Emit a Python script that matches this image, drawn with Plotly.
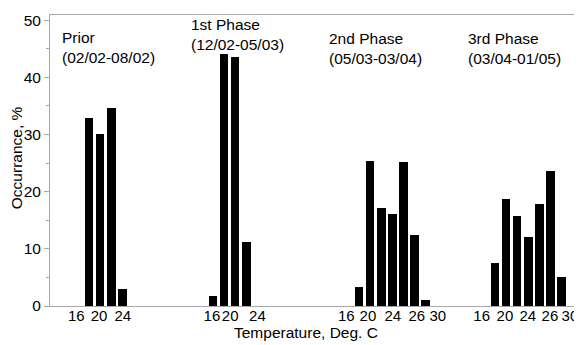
import plotly.graph_objects as go

# ---- data ----
phase_names = ["Prior", "1st Phase", "2nd Phase", "3rd Phase"]
phase_dates = ["(02/02-08/02)", "(12/02-05/03)", "(05/03-03/04)", "(03/04-01/05)"]

temps_prior = [18, 20, 22, 24]
occ_prior = [32.9, 30.1, 34.7, 2.9]

temps_phase1 = [18, 20, 22, 24]
occ_phase1 = [1.7, 44.1, 43.6, 11.2]

temps_phase2 = [18, 20, 22, 24, 26, 28, 30]
occ_phase2 = [3.3, 25.3, 17.2, 16.1, 25.2, 12.4, 1.1]

temps_phase3 = [18, 20, 22, 24, 26, 28, 30]
occ_phase3 = [7.6, 18.7, 15.7, 12.1, 17.9, 23.6, 5.1]

tick_labels_prior = ["16", "20", "24"]
tick_labels_phase1 = ["16", "20", "24"]
tick_labels_phase2 = ["16", "20", "24", "26", "30"]
tick_labels_phase3 = ["16", "20", "24", "26", "30"]

y_ticks = [0, 10, 20, 30, 40, 50]

# ---- layout helpers (positions, not data) ----
group_offsets = [0.0, 22.34, 48.65, 73.15]
tick_pos = [
    [15.7, 19.8, 24.1],
    [17.8, 21.1, 26.0],
    [15.7, 19.6, 24.1, 28.4, 32.2],
    [15.6, 19.8, 23.9, 27.9, 31.5],
]
label_x = [12.8, 13.6, 12.3, 12.7]
label_top_px = [27, 14, 28, 28]

groups = [
    (temps_prior, occ_prior, tick_labels_prior),
    (temps_phase1, occ_phase1, tick_labels_phase1),
    (temps_phase2, occ_phase2, tick_labels_phase2),
    (temps_phase3, occ_phase3, tick_labels_phase3),
]

FONT = "Liberation Sans, Arial, Helvetica, sans-serif"
fig = go.Figure()

tickvals, ticktext = [], []
for gi, (temps, occ, tlabels) in enumerate(groups):
    off = group_offsets[gi]
    fig.add_trace(go.Bar(
        x=[t + off for t in temps], y=occ, width=1.55,
        marker=dict(color="black", line=dict(width=0)),
        showlegend=False, hoverinfo="y",
    ))
    for p, lab in zip(tick_pos[gi], tlabels):
        tickvals.append(p + off)
        ticktext.append(lab)

plot_top, plot_bottom = 15, 306.5
for gi in range(4):
    ypaper = (plot_bottom - label_top_px[gi]) / (plot_bottom - plot_top)
    fig.add_annotation(
        x=label_x[gi] + group_offsets[gi], xref="x", y=ypaper, yref="paper",
        text=phase_names[gi] + "<br>" + phase_dates[gi],
        showarrow=False, xanchor="left", yanchor="top", align="left",
        font=dict(size=15.5, color="black", family=FONT),
    )

fig.add_annotation(
    x=0.486, xref="paper", y=-0.091, yref="paper",
    text="Temperature, Deg. C", showarrow=False,
    xanchor="center", yanchor="middle",
    font=dict(size=15.5, color="black", family=FONT),
)
fig.add_annotation(
    x=-0.062, xref="paper", y=0.509, yref="paper",
    text="Occurrance, %", showarrow=False, textangle=-90,
    xanchor="center", yanchor="middle",
    font=dict(size=15.5, color="black", family=FONT),
)

# page body has an 8px margin, so the figure is offset by 8px
fig.update_layout(
    width=574, height=337,
    margin=dict(l=42, r=5, t=7, b=38.5, autoexpand=False),
    paper_bgcolor="white", plot_bgcolor="white",
    bargap=0,
    font=dict(family=FONT, size=15.5, color="black"),
)
fig.update_xaxes(
    range=[10.97, 105.93], automargin=False,
    tickmode="array", tickvals=tickvals, ticktext=ticktext,
    tickangle=0,
    ticks="", showgrid=False, zeroline=False,
    showline=True, linecolor="#a8a8a8", linewidth=1, mirror=True,
    tickfont=dict(size=15, family=FONT, color="black"),
    ticklabelstandoff=-4,
)
fig.update_yaxes(
    range=[0, 50.9], automargin=False,
    tickmode="array", tickvals=y_ticks,
    ticks="outside", ticklen=5, tickcolor="#a8a8a8", tickwidth=1,
    minor=dict(dtick=5, tick0=0, ticks="outside", ticklen=3, tickcolor="#a8a8a8", showgrid=False),
    showgrid=False, zeroline=False,
    showline=True, linecolor="#a8a8a8", linewidth=1, mirror=True,
    tickfont=dict(size=15.5, family=FONT, color="black"),
)

fig.write_html("out.html")
